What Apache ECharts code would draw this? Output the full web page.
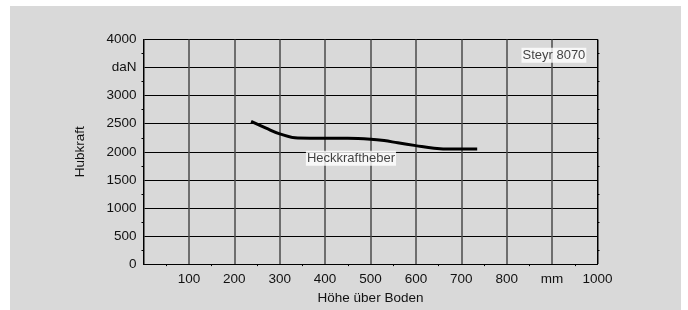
<!DOCTYPE html>
<html>
<head>
<meta charset="utf-8">
<script src="https://cdn.jsdelivr.net/npm/echarts@6/dist/echarts.min.js"></script>
<style>
  html, body { margin: 0; padding: 0; background: #fff; }
  #chart { width: 688px; height: 310px; }
</style>
</head>
<body>
<div id="chart"></div>
<script>
// Hubkraft curve (Steyr 8070, rear linkage)
const heightMm = [237, 270, 300, 340, 400, 450, 500, 530, 560, 600, 640, 680, 735];
const liftDaN  = [2540, 2420, 2320, 2245, 2240, 2240, 2225, 2200, 2160, 2110, 2065, 2050, 2050];

// tick label overrides
const xLabelOverrides = { 0: '', 900: 'mm' };
const yLabelOverrides = { 3500: 'daN' };

// text labels placed in data coordinates
const curveLabel = { name: 'Heckkraftheber', x: 457, y: 1887 };
const modelLabel = { name: 'Steyr 8070', x: 904, y: 3720 };

const FONT = '"Liberation Sans", Arial, sans-serif';
const TEXT = '#111';

const chart = echarts.init(document.getElementById('chart'));

const boxLabel = {
  show: true,
  formatter: '{b}',
  position: 'inside',
  color: TEXT,
  fontFamily: FONT,
  fontSize: 13,
  backgroundColor: '#fff',
  padding: [1, 1, 1, 1]
};

const option = {
  animation: false,
  backgroundColor: '#fff',
  graphic: [{
    type: 'rect',
    z: -10,
    shape: { x: 10, y: 6, width: 671, height: 310 },
    style: { fill: '#d9d9d9' }
  }],
  grid: { left: 143.5, top: 39.5, right: 90.5, bottom: 44 },
  xAxis: {
    type: 'value',
    min: 0, max: 1000, interval: 100,
    name: 'Höhe über Boden',
    nameLocation: 'middle',
    nameGap: 26,
    nameTextStyle: { color: TEXT, fontFamily: FONT, fontSize: 13.5 },
    axisLine: { lineStyle: { color: '#000', width: 1 } },
    axisTick: { show: false },
    minorTick: { show: true, splitNumber: 2, length: 2, lineStyle: { color: '#000' } },
    axisLabel: {
      color: TEXT, fontFamily: FONT, fontSize: 13.5, margin: 8,
      formatter: v => (v in xLabelOverrides ? xLabelOverrides[v] : String(v))
    },
    splitLine: { show: true, lineStyle: { color: '#4a4a4a', width: 1.5 } }
  },
  yAxis: [{
    type: 'value',
    min: 0, max: 4000, interval: 500,
    name: 'Hubkraft',
    nameLocation: 'middle',
    nameGap: 56,
    nameRotate: 90,
    nameTextStyle: { color: TEXT, fontFamily: FONT, fontSize: 13.5 },
    axisLine: { show: true, lineStyle: { color: '#000', width: 1 } },
    axisTick: { show: false },
    minorTick: { show: true, splitNumber: 2, length: 2, lineStyle: { color: '#000' } },
    axisLabel: {
      color: TEXT, fontFamily: FONT, fontSize: 13.5, margin: 7,
      formatter: v => (v in yLabelOverrides ? yLabelOverrides[v] : String(v))
    },
    splitLine: { show: true, lineStyle: { color: '#000', width: 1 } }
  }, {
    type: 'value',
    position: 'right',
    min: 0, max: 4000, interval: 500,
    axisLine: { show: true, lineStyle: { color: '#000', width: 1 } },
    axisTick: { show: false },
    minorTick: { show: true, splitNumber: 2, length: 2, lineStyle: { color: '#000' } },
    axisLabel: { show: false },
    splitLine: { show: false }
  }],
  series: [{
    type: 'line',
    data: heightMm.map((h, i) => [h, liftDaN[i]]),
    smooth: 0.4,
    symbol: 'none',
    lineStyle: { color: '#000', width: 3 },
    z: 5
  }, {
    type: 'scatter',
    symbolSize: 0,
    z: 6,
    data: [
      { name: curveLabel.name, value: [curveLabel.x, curveLabel.y] },
      { name: modelLabel.name, value: [modelLabel.x, modelLabel.y] }
    ],
    label: boxLabel
  }]
};

chart.setOption(option);
</script>
</body>
</html>
